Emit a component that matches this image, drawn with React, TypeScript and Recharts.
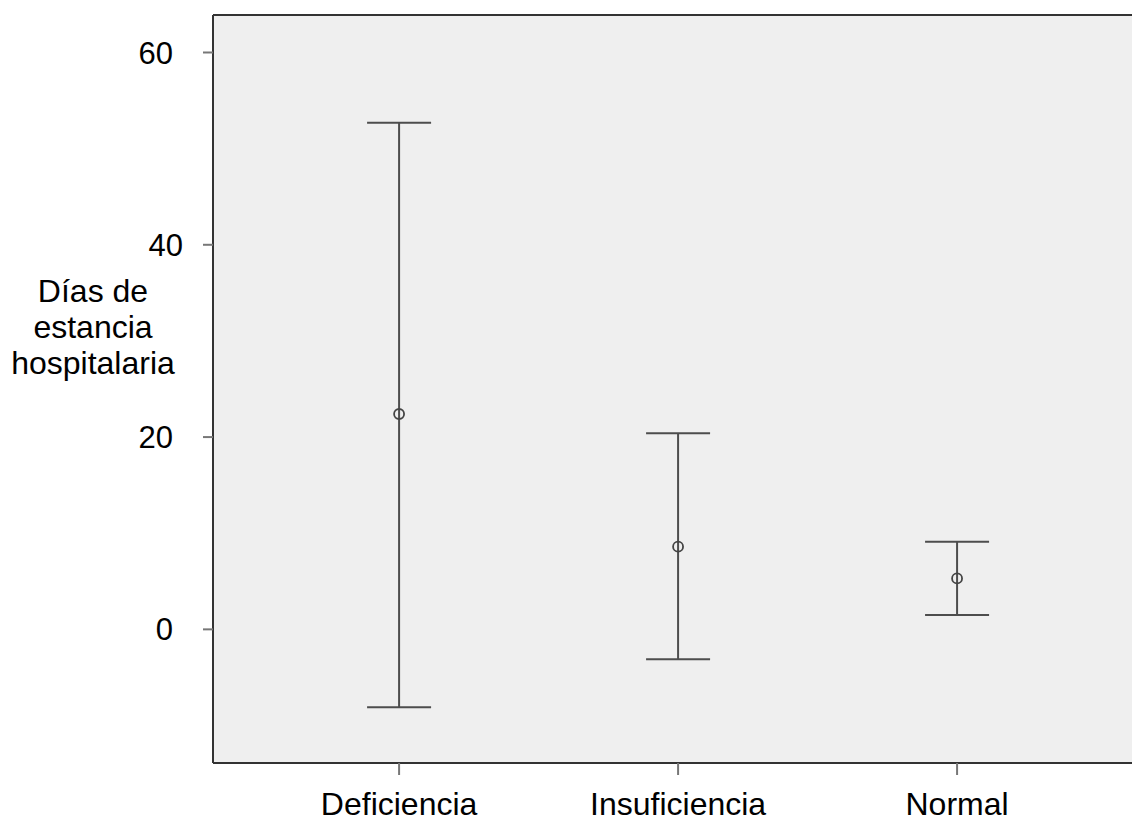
import React from "react";
import {
  ComposedChart,
  Scatter,
  ErrorBar,
  XAxis,
  YAxis,
  CartesianGrid,
  ReferenceLine,
} from "recharts";

const categories = ["Deficiencia", "Insuficiencia", "Normal"];
const means = [22.4, 8.6, 5.3];
const lower = [-8.1, -3.1, 1.5];
const upper = [52.7, 20.4, 9.1];
const yTicks = [0, 20, 40, 60];

const Y_MIN = -13.9;
const Y_MAX = 63.9;
const X_MIN = -0.667;
const X_MAX = 2.627;

const FONT = "'Liberation Sans', Arial, sans-serif";
const LINE = "#4d4d4d";

const data = categories.map((name, i) => ({
  x: i,
  name,
  mean: means[i],
  err: [means[i] - lower[i], upper[i] - means[i]],
}));

const YTick = (props: any) => {
  const { x, y, payload } = props;
  // the "40" label sits a little further right in the original
  const dx = payload.value === 40 ? 10 : 0;
  return (
    <text
      x={x + dx}
      y={y}
      dy="0.355em"
      textAnchor="end"
      fontFamily={FONT}
      fontSize={31}
      fill="#000"
    >
      {payload.value}
    </text>
  );
};

const YLabel = () => (
  <text textAnchor="middle" fontFamily={FONT} fontSize={32} fill="#000">
    <tspan x={93} y={302}>Días de</tspan>
    <tspan x={93} y={338}>estancia</tspan>
    <tspan x={93} y={374}>hospitalaria</tspan>
  </text>
);

const MeanMarker = (props: any) => {
  const { cx, cy } = props;
  return (
    <circle cx={cx} cy={cy} r={5} fill="none" stroke="#444" strokeWidth={1.8} />
  );
};

export default function App() {
  return (
    <div
      style={{
        position: "absolute",
        left: 0,
        top: 0,
        width: 1132,
        height: 821,
        overflow: "hidden",
        background: "#fff",
      }}
    >
      <ComposedChart
        width={1132}
        height={821}
        data={data}
        margin={{ top: 15, right: 0, bottom: 0, left: 0 }}
      >
        <CartesianGrid
          horizontal={false}
          vertical={false}
          fill="#efefef"
          fillOpacity={1}
        />
        <XAxis
          dataKey="x"
          type="number"
          domain={[X_MIN, X_MAX]}
          ticks={[0, 1, 2]}
          allowDataOverflow
          tickFormatter={(v: number) => categories[v] ?? ""}
          height={58}
          tickSize={12}
          tickMargin={17}
          axisLine={{ stroke: "#333", strokeWidth: 2 }}
          tickLine={{ stroke: "#777", strokeWidth: 2 }}
          tick={{ fontFamily: FONT, fontSize: 32, fill: "#000" }}
        />
        <YAxis
          type="number"
          domain={[Y_MIN, Y_MAX]}
          ticks={yTicks}
          allowDataOverflow
          width={213}
          tickSize={10}
          tickMargin={30}
          axisLine={{ stroke: "#333", strokeWidth: 2 }}
          tickLine={{ stroke: "#777", strokeWidth: 2 }}
          tick={<YTick />}
          label={<YLabel />}
        />
        <ReferenceLine y={Y_MAX} stroke="#333" strokeWidth={2} ifOverflow="visible" />
        <Scatter
          dataKey="mean"
          shape={<MeanMarker />}
          isAnimationActive={false}
        >
          <ErrorBar
            dataKey="err"
            direction="y"
            width={32}
            stroke={LINE}
            strokeWidth={2}
            isAnimationActive={false}
          />
        </Scatter>
      </ComposedChart>
    </div>
  );
}
